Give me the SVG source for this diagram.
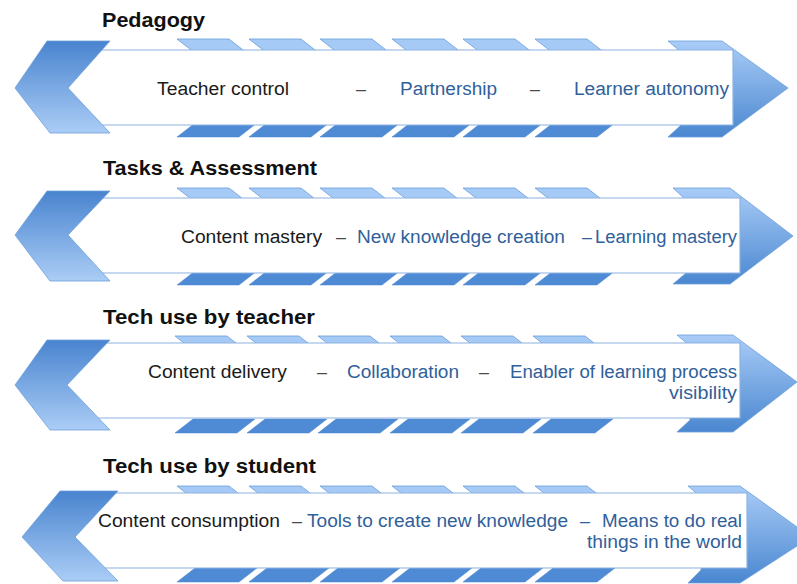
<svg xmlns="http://www.w3.org/2000/svg" width="797" height="584" viewBox="0 0 797 584">
<defs>
<linearGradient id="gChev" x1="0" y1="0" x2="0" y2="1">
<stop offset="0" stop-color="#4984cf"/><stop offset="1" stop-color="#abcdf6"/>
</linearGradient>
<linearGradient id="gArrow" x1="0" y1="0" x2="0" y2="1">
<stop offset="0" stop-color="#a9ccf7"/><stop offset="1" stop-color="#4a87d0"/>
</linearGradient>
<g id="tabsTop">
<polygon points="0,0 52,0 70,14 18,14"/>
<polygon points="72,0 124,0 142,14 90,14"/>
<polygon points="143,0 195,0 213,14 161,14"/>
<polygon points="215,0 267,0 285,14 233,14"/>
<polygon points="286,0 338,0 356,14 304,14"/>
<polygon points="358,0 410,0 428,14 376,14"/>
</g>
<g id="tabsBot">
<polygon points="18,-14 80,-14 62,0 0,0"/>
<polygon points="90,-14 152,-14 134,0 72,0"/>
<polygon points="161,-14 223,-14 205,0 143,0"/>
<polygon points="233,-14 295,-14 277,0 215,0"/>
<polygon points="304,-14 366,-14 348,0 286,0"/>
<polygon points="376,-14 438,-14 420,0 358,0"/>
</g>
</defs>
<style>
.tt{fill:#a6caf6;stroke:#6b9edb;stroke-width:0.8}
.tb{fill:#4e8bd4;stroke:#4a86cf;stroke-width:0.5}
.chev{fill:url(#gChev);stroke:#6d9fdc;stroke-width:0.8}
.arr{fill:url(#gArrow);stroke:#6d9fdc;stroke-width:0.8}
.box{fill:#ffffff;stroke:none}
.edge{fill:none;stroke:#8db2e2;stroke-width:1.2}
.title{font-family:"Liberation Sans",Arial,sans-serif;font-weight:bold;font-size:20px;fill:#111111}
.t{font-family:"Liberation Sans",Arial,sans-serif;font-size:18px}
.k{fill:#1a1a1a}
.b{fill:#30609a}
.d{fill:#4a4a4a}
</style>

<!-- Row 1 -->
<g id="pedagogy">
<text class="title" x="102" y="27" textLength="103" lengthAdjust="spacingAndGlyphs">Pedagogy</text>
<use href="#tabsTop" class="tt" x="177" y="39"/>
<use href="#tabsBot" class="tb" x="177" y="137"/>
<polygon class="arr" points="668,41 722,41 788,88 722,137 668,137 681,125 681,52"/>
<rect class="box" x="68" y="50" width="665" height="75"/>
<path class="edge" d="M90,50 H733 V125 H90"/>
<polygon class="chev" points="47,41 110,41 68,88 110,133 50,133 15,88"/>
<text class="t k" x="157" y="95" textLength="132" lengthAdjust="spacingAndGlyphs">Teacher control</text>
<text class="t d" x="356" y="95" textLength="10" lengthAdjust="spacingAndGlyphs">–</text>
<text class="t b" x="400" y="95" textLength="97" lengthAdjust="spacingAndGlyphs">Partnership</text>
<text class="t d" x="530" y="95" textLength="10" lengthAdjust="spacingAndGlyphs">–</text>
<text class="t b" x="574" y="95" textLength="155" lengthAdjust="spacingAndGlyphs">Learner autonomy</text>
</g>

<!-- Row 2 -->
<g id="tasks">
<text class="title" x="103" y="175" textLength="214" lengthAdjust="spacingAndGlyphs">Tasks &amp; Assessment</text>
<use href="#tabsTop" class="tt" x="177" y="188"/>
<use href="#tabsBot" class="tb" x="177" y="285"/>
<polygon class="arr" points="673,188 730,188 793,236 730,284 673,284 686,273 686,200"/>
<rect class="box" x="68" y="198" width="672" height="75"/>
<path class="edge" d="M90,198 H740 V273 H90"/>
<polygon class="chev" points="47,191 110,191 68,235 110,281 50,281 15,235"/>
<text class="t k" x="181" y="243" textLength="141" lengthAdjust="spacingAndGlyphs">Content mastery</text>
<text class="t d" x="336" y="243" textLength="10" lengthAdjust="spacingAndGlyphs">–</text>
<text class="t b" x="357" y="243" textLength="208" lengthAdjust="spacingAndGlyphs">New knowledge creation</text>
<text class="t b" x="582" y="243" textLength="10" lengthAdjust="spacingAndGlyphs">–</text>
<text class="t b" x="595" y="243" textLength="142" lengthAdjust="spacingAndGlyphs">Learning mastery</text>
</g>

<!-- Row 3 -->
<g id="teacher">
<text class="title" x="103" y="324" textLength="212" lengthAdjust="spacingAndGlyphs">Tech use by teacher</text>
<use href="#tabsTop" class="tt" x="175" y="336"/>
<use href="#tabsBot" class="tb" x="175" y="433"/>
<polygon class="arr" points="677,335 733,335 797,382 733,432 677,432 690,420 690,346"/>
<rect class="box" x="68" y="343" width="672" height="75"/>
<path class="edge" d="M90,343 H740 V418 H90"/>
<polygon class="chev" points="47,340 110,340 67,385 110,430 50,430 15,385"/>
<text class="t k" x="148" y="378" textLength="139" lengthAdjust="spacingAndGlyphs">Content delivery</text>
<text class="t d" x="317" y="378" textLength="10" lengthAdjust="spacingAndGlyphs">–</text>
<text class="t b" x="347" y="378" textLength="112" lengthAdjust="spacingAndGlyphs">Collaboration</text>
<text class="t d" x="479" y="378" textLength="10" lengthAdjust="spacingAndGlyphs">–</text>
<text class="t b" x="510" y="378" textLength="227" lengthAdjust="spacingAndGlyphs">Enabler of learning process</text>
<text class="t b" x="669" y="399" textLength="68" lengthAdjust="spacingAndGlyphs">visibility</text>
</g>

<!-- Row 4 -->
<g id="student">
<text class="title" x="103" y="473" textLength="213" lengthAdjust="spacingAndGlyphs">Tech use by student</text>
<use href="#tabsTop" class="tt" x="177" y="486"/>
<use href="#tabsBot" class="tb" x="177" y="582"/>
<polygon class="arr" points="688,486 740,486 811,537 740,583 688,583 701,570 701,497"/>
<rect class="box" x="75" y="493" width="672" height="75"/>
<path class="edge" d="M95,493 H747 V568 H95"/>
<polygon class="chev" points="60,491 118,491 75,537 118,581 63,581 22,537"/>
<text class="t k" x="98" y="527" textLength="182" lengthAdjust="spacingAndGlyphs">Content consumption</text>
<text class="t d" x="292" y="527" textLength="10" lengthAdjust="spacingAndGlyphs">–</text>
<text class="t b" x="307" y="527" textLength="261" lengthAdjust="spacingAndGlyphs">Tools to create new knowledge</text>
<text class="t b" x="580" y="527" textLength="10" lengthAdjust="spacingAndGlyphs">–</text>
<text class="t b" x="602" y="527" textLength="140" lengthAdjust="spacingAndGlyphs">Means to do real</text>
<text class="t b" x="587" y="548" textLength="155" lengthAdjust="spacingAndGlyphs">things in the world</text>
</g>
</svg>
